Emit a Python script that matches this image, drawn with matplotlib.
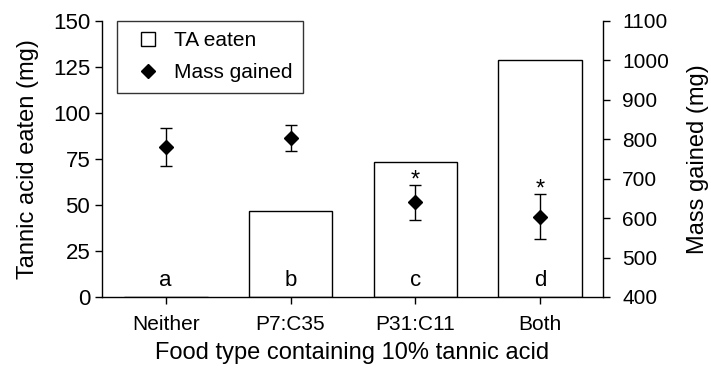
import matplotlib
matplotlib.use("Agg")
import matplotlib.pyplot as plt
from matplotlib.lines import Line2D

plt.rcParams["font.family"] = ["Liberation Sans", "DejaVu Sans"]

# Data
food_types = ["Neither", "P7:C35", "P31:C11", "Both"]
ta_eaten = [0, 46.5, 73.4, 128.8]
mass_gained = [781, 803, 640, 604]
mass_err = [48, 34, 44, 58]
group_letters = ["a", "b", "c", "d"]
significant = [False, False, True, True]

x = list(range(len(food_types)))

fig = plt.figure(figsize=(7.11, 3.68), dpi=100)
ax = fig.add_axes([0.1435, 0.193, 0.704, 0.750])
ax2 = ax.twinx()

ax.bar(x, ta_eaten, width=0.67, color="white", edgecolor="black", linewidth=1.0, zorder=2)
ax.set_xlim(-0.51, 3.5)
ax.set_ylim(0, 150)
ax.set_yticks([0, 25, 50, 75, 100, 125, 150])
ax.set_xticks(x)
ax.set_xticklabels(food_types)
ax.set_ylabel("Tannic acid eaten (mg)", fontsize=17, labelpad=10)
ax.set_xlabel("Food type containing 10% tannic acid", fontsize=17, labelpad=6)

for xi, letter in zip(x, group_letters):
    ax.text(xi, 9, letter, ha="center", va="center", fontsize=16, zorder=3)

ax2.errorbar(x, mass_gained, yerr=mass_err, fmt="D", color="black", markersize=7.5,
             ecolor="black", elinewidth=1.0, capsize=4, capthick=1.0, zorder=4)
ax2.set_ylim(400, 1100)
ax2.set_yticks(range(400, 1101, 100))
ax2.set_ylabel("Mass gained (mg)", fontsize=17, labelpad=13)

# significance stars above the error bars
for xi, m, e, sig in zip(x, mass_gained, mass_err, significant):
    if sig:
        ax2.annotate("*", (xi, m + e), xytext=(0, -5), textcoords="offset points",
                     ha="center", va="bottom", fontsize=17)

for a in (ax, ax2):
    a.spines["top"].set_visible(False)
    for s in a.spines.values():
        s.set_linewidth(1.0)
    a.tick_params(direction="out", length=5, width=1.0)
ax.spines["right"].set_visible(False)
ax2.spines["left"].set_visible(False)
ax2.spines["bottom"].set_visible(False)
ax.tick_params(axis="y", labelsize=16)
ax.tick_params(axis="x", labelsize=15, pad=8)
ax2.tick_params(axis="y", labelsize=15, pad=9)

handles = [Line2D([], [], marker="s", markerfacecolor="white", markeredgecolor="black",
                  markeredgewidth=1.0, markersize=10, linestyle="none", label="TA eaten"),
           Line2D([], [], marker="D", color="black", linestyle="none", markersize=7.5,
                  label="Mass gained")]
leg = ax2.legend(handles=handles, loc="upper left", bbox_to_anchor=(0.03, 1.0),
                 fontsize=15, frameon=True, fancybox=False, edgecolor="black",
                 handlelength=2.0, handletextpad=0.25,
                 borderpad=0.5, borderaxespad=0, labelspacing=0.62)
leg.get_frame().set_linewidth(1.0)

fig.savefig("out.png", dpi=100)
